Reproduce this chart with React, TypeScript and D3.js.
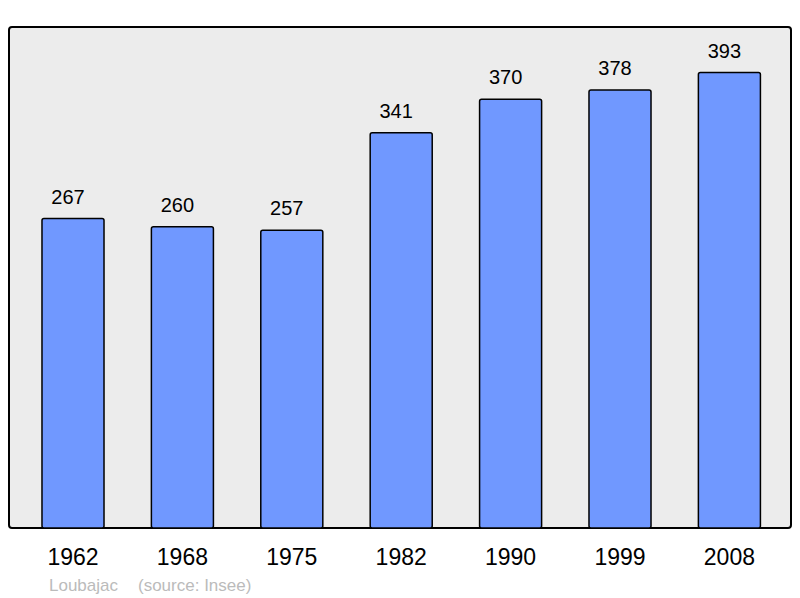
import * as d3 from 'd3'

const years = ['1962', '1968', '1975', '1982', '1990', '1999', '2008']
const population = [267, 260, 257, 341, 370, 378, 393]
const town = 'Loubajac'
const source = '(source: Insee)'

export default function App() {
  const width = 800
  const height = 598
  const box = { left: 9, top: 27, right: 791, bottom: 528 }

  const step = 109.4
  const x = d3.scaleBand()
    .domain(years)
    .range([73 - step / 2, 73 - step / 2 + step * years.length])
    .paddingInner(0.433)
    .paddingOuter(0.433 / 2)

  const y = d3.scaleLinear()
    .domain([0, (d3.max(population) || 0) * 1.1])
    .range([box.bottom, box.top])

  const font = '"Liberation Sans", Arial, sans-serif'

  return (
    <div style={{ position: 'absolute', left: 0, top: 0 }}>
      <svg width={width} height={height} style={{ display: 'block', fontFamily: font }}>
        <rect x={0} y={0} width={width} height={height} fill="#fff" />
        <rect
          x={box.left}
          y={box.top}
          width={box.right - box.left}
          height={box.bottom - box.top}
          rx={3}
          fill="#ececec"
          stroke="#000"
          strokeWidth={2}
        />
        {population.map((v, i) => (
          <g key={years[i]}>
            <rect
              x={x(years[i]) || 0}
              y={y(v)}
              width={x.bandwidth()}
              height={box.bottom - y(v)}
              rx={2}
              fill="#7098ff"
              stroke="#000"
              strokeWidth={1.5}
            />
            <text
              x={(x(years[i]) || 0) + x.bandwidth() / 2 - 5}
              y={y(v) - 15}
              textAnchor="middle"
              fontSize={20}
              fill="#000"
            >
              {v}
            </text>
            <text
              x={(x(years[i]) || 0) + x.bandwidth() / 2}
              y={565}
              textAnchor="middle"
              fontSize={23}
              fill="#000"
            >
              {years[i]}
            </text>
          </g>
        ))}
        <text x={49} y={590.5} fontSize={17} fill="#bbb">{town}</text>
        <text x={138} y={590.5} fontSize={17} fill="#bbb">{source}</text>
      </svg>
    </div>
  )
}
